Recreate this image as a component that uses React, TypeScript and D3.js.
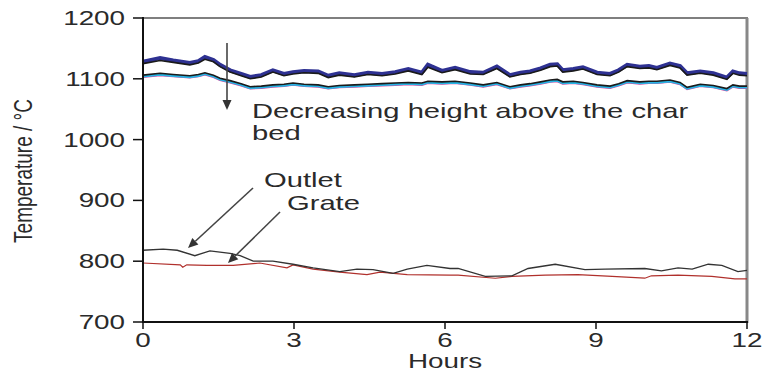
import React from "react";
import * as d3 from "d3";

const hoursTop = [0, 0.34, 0.6, 0.93, 1.1, 1.23, 1.4, 1.53, 1.73, 1.95, 2.13, 2.35, 2.58, 2.8, 2.98, 3.2, 3.48, 3.68, 3.9, 4.2, 4.47, 4.75, 5.01, 5.27, 5.54, 5.66, 5.94, 6.2, 6.5, 6.76, 7.03, 7.29, 7.5, 7.69, 7.9, 8.09, 8.23, 8.34, 8.55, 8.74, 9.02, 9.28, 9.45, 9.62, 9.87, 10.05, 10.21, 10.47, 10.67, 10.81, 11.07, 11.33, 11.6, 11.72, 11.85, 12];
const upperBlue = [1128, 1134, 1130, 1126, 1129, 1136, 1131, 1123, 1114, 1108, 1103, 1106, 1114, 1108, 1111, 1113, 1112, 1105, 1109, 1106, 1110, 1108, 1111, 1116, 1110, 1123, 1113, 1118, 1111, 1110, 1120, 1106, 1110, 1112, 1117, 1123, 1124, 1114, 1116, 1119, 1110, 1108, 1114, 1123, 1120, 1121, 1118, 1125, 1121, 1109, 1112, 1109, 1102, 1112, 1109, 1108];
const upperBlack = [1125, 1130, 1127, 1123, 1126, 1132, 1128, 1120, 1111, 1105, 1100, 1103, 1111, 1105, 1108, 1110, 1109, 1102, 1106, 1103, 1107, 1105, 1108, 1113, 1107, 1119, 1110, 1115, 1108, 1107, 1117, 1103, 1107, 1109, 1114, 1120, 1121, 1111, 1113, 1116, 1107, 1105, 1111, 1120, 1117, 1118, 1115, 1122, 1118, 1106, 1109, 1106, 1099, 1109, 1106, 1105];
const lowerBlack = [1106, 1109, 1107, 1105, 1107, 1110, 1106, 1101, 1097, 1092, 1087, 1088, 1090, 1091, 1093, 1091, 1090, 1087, 1089, 1090, 1091, 1092, 1093, 1094, 1093, 1096, 1095, 1096, 1093, 1090, 1094, 1087, 1090, 1092, 1095, 1098, 1099, 1095, 1096, 1094, 1090, 1088, 1092, 1097, 1095, 1096, 1096, 1098, 1094, 1086, 1091, 1089, 1084, 1090, 1088, 1088];
const lowerCyan = [1104, 1107, 1105, 1103, 1105, 1108, 1104, 1099, 1095, 1090, 1085, 1086, 1088, 1089, 1091, 1089, 1088, 1085, 1087, 1088, 1089, 1090, 1091, 1092, 1091, 1094, 1093, 1094, 1091, 1088, 1092, 1085, 1088, 1090, 1093, 1096, 1097, 1093, 1094, 1092, 1088, 1086, 1090, 1095, 1093, 1094, 1094, 1096, 1092, 1084, 1089, 1087, 1082, 1088, 1086, 1086];
const lowerMagenta = [1103, 1106, 1104, 1102, 1104, 1107, 1103, 1098, 1094, 1089, 1084, 1085, 1087, 1088, 1090, 1088, 1087, 1084, 1086, 1087, 1088, 1089, 1090, 1091, 1090, 1093, 1092, 1093, 1090, 1087, 1091, 1084, 1087, 1089, 1092, 1095, 1096, 1092, 1093, 1091, 1087, 1085, 1089, 1094, 1092, 1093, 1093, 1095, 1091, 1083, 1088, 1086, 1081, 1087, 1085, 1085];

const hoursOutlet = [0, 0.4, 0.68, 1.03, 1.33, 1.73, 1.93, 2.19, 2.58, 2.98, 3.38, 3.91, 4.25, 4.57, 4.97, 5.25, 5.64, 6.1, 6.26, 6.8, 7.33, 7.65, 8.19, 8.78, 9.18, 9.97, 10.3, 10.63, 10.91, 11.23, 11.5, 11.82, 12];
const outlet = [818, 820, 818, 809, 817, 813, 809, 800, 800, 795, 789, 783, 787, 786, 780, 787, 793, 788, 788, 775, 776, 788, 795, 786, 787, 788, 784, 789, 787, 795, 793, 783, 785];
const hoursGrate = [0, 0.74, 0.79, 0.87, 1.27, 1.79, 2.32, 2.86, 2.98, 3.38, 3.91, 4.45, 4.71, 5.25, 6.1, 6.26, 7.0, 7.33, 7.99, 8.64, 9.32, 9.97, 10.1, 10.63, 11.3, 11.76, 12];
const grate = [797, 794, 790, 794, 793, 793, 797, 789, 794, 787, 782, 778, 782, 778, 777, 777, 772, 775, 777, 778, 775, 772, 776, 777, 775, 771, 771];

const xTicks = [0, 3, 6, 9, 12];
const yTicks = [700, 800, 900, 1000, 1100, 1200];

const SX = 1.39;
const FONT = "'Liberation Sans', Arial, sans-serif";
const TXT = "#2a2a2a";

export default function App() {
  const x = d3.scaleLinear().domain([0, 12]).range([143, 747]);
  const y = d3.scaleLinear().domain([700, 1200]).range([322, 18]);
  const mk = (hs: number[], vs: number[]) =>
    d3.line<number>().x((_, i) => x(hs[i])).y((v) => y(v))(vs) || "";

  const arrow = (x1: number, y1: number, x2: number, y2: number, key: string) => {
    const a = Math.atan2(y2 - y1, x2 - x1);
    const L = 10, W = 4.5;
    const bx = x2 - L * Math.cos(a), by = y2 - L * Math.sin(a);
    const p1 = [bx + W * Math.sin(a), by - W * Math.cos(a)];
    const p2 = [bx - W * Math.sin(a), by + W * Math.cos(a)];
    return (
      <g key={key}>
        <line x1={x1} y1={y1} x2={bx} y2={by} stroke="#444" strokeWidth={1.6} />
        <polygon points={`${x2},${y2} ${p1[0]},${p1[1]} ${p2[0]},${p2[1]}`} fill="#333" />
      </g>
    );
  };

  const stext = (tx: number, ty: number, s: string, size: number, anchor: string, key?: string) => (
    <text key={key} transform={`translate(${tx},${ty}) scale(${SX},1)`} fontSize={size} fill={TXT} textAnchor={anchor as any} fontFamily={FONT}>
      {s}
    </text>
  );

  return (
    <svg width={765} height={373} style={{ position: "absolute", left: 0, top: 0, background: "#fff" }}>
      {/* frame */}
      <line x1={143} y1={18} x2={748} y2={18} stroke="#555" strokeWidth={1.5} />
      <line x1={747} y1={18} x2={747} y2={323} stroke="#888" strokeWidth={3} />
      {/* data */}
      <path d={mk(hoursTop, upperBlue)} fill="none" stroke="#2e3192" strokeWidth={4} />
      <path d={mk(hoursTop, upperBlack)} fill="none" stroke="#1a1a1a" strokeWidth={1.6} />
      <path d={mk(hoursTop, lowerMagenta)} fill="none" stroke="#e0409a" strokeWidth={2} />
      <path d={mk(hoursTop, lowerCyan)} fill="none" stroke="#27b4e4" strokeWidth={2.4} />
      <path d={mk(hoursTop, lowerBlack)} fill="none" stroke="#1a1a1a" strokeWidth={1.6} />
      <path d={mk(hoursGrate, grate)} fill="none" stroke="#b0302c" strokeWidth={1.2} />
      <path d={mk(hoursOutlet, outlet)} fill="none" stroke="#333" strokeWidth={1.3} />
      {/* axes */}
      <line x1={143} y1={17} x2={143} y2={323} stroke="#111" strokeWidth={2} />
      <line x1={142} y1={322} x2={748} y2={322} stroke="#111" strokeWidth={2} />
      {yTicks.map((t) => (
        <g key={"y" + t}>
          <line x1={133} x2={143} y1={y(t)} y2={y(t)} stroke="#111" strokeWidth={1.5} />
          {stext(125, y(t) + 7, String(t), 20, "end")}
        </g>
      ))}
      {xTicks.map((t) => (
        <g key={"x" + t}>
          <line x1={x(t)} x2={x(t)} y1={322} y2={329} stroke="#111" strokeWidth={1.5} />
          {stext(x(t), 347, String(t), 20, "middle")}
        </g>
      ))}
      {stext(445, 368, "Hours", 20, "middle")}
      <text transform={`translate(32,171) rotate(-90) scale(1,${SX})`} fontSize={19} fill={TXT} textAnchor="middle" fontFamily={FONT}>
        Temperature / °C
      </text>
      {/* annotations */}
      {stext(252, 118, "Decreasing height above the char", 21, "start")}
      {stext(252, 140, "bed", 21, "start")}
      {stext(264, 187, "Outlet", 21, "start")}
      {stext(287, 210, "Grate", 21, "start")}
      {arrow(227, 43, 227, 110, "a1")}
      {arrow(253, 188, 188, 248, "a2")}
      {arrow(280, 212, 228, 263, "a3")}
    </svg>
  );
}
